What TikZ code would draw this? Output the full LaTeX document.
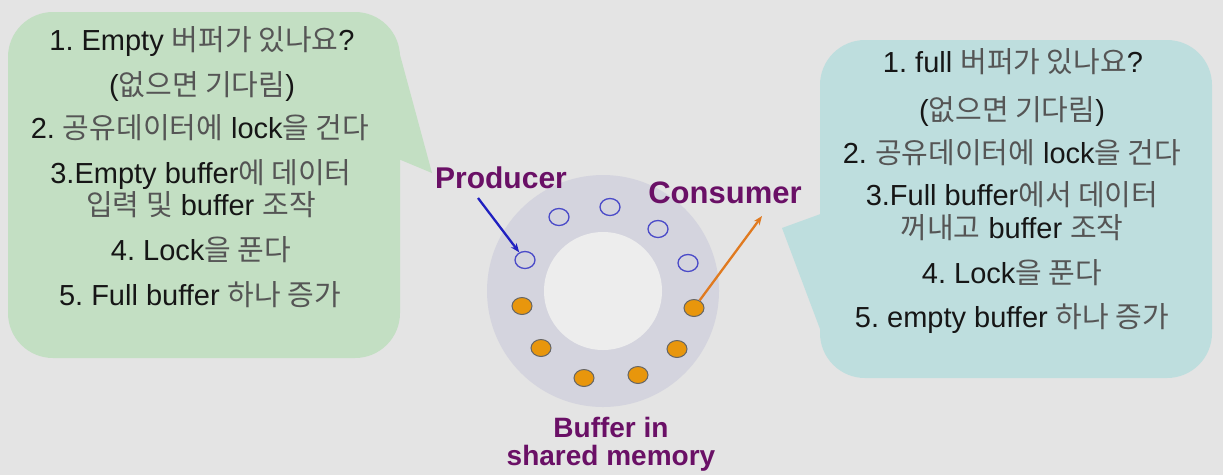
\documentclass[tikz,border=0pt]{standalone}
\usepackage{fontspec}
\setmainfont{Liberation Sans}
\newfontfamily\krfont{Noto Sans CJK KR}
\usetikzlibrary{arrows.meta,shapes.geometric}
\frenchspacing
\definecolor{bg}{HTML}{E4E4E4}
\definecolor{lgreen}{HTML}{C3DFC3}
\definecolor{lcyan}{HTML}{BEDEDE}
\definecolor{ringc}{HTML}{D4D4DE}
\definecolor{holec}{HTML}{EDEDED}
\definecolor{kgray}{HTML}{555555}
\definecolor{txt}{HTML}{161616}
\definecolor{purp}{HTML}{6A1066}
\definecolor{eblue}{HTML}{4A4AC8}
\definecolor{forange}{HTML}{E8960C}
\definecolor{ablue}{HTML}{2020C0}
\definecolor{aorange}{HTML}{E07A20}
\newcommand\hk[1]{{\krfont\color{kgray}#1}}
\tikzset{
  line/.style={anchor=base, inner sep=0pt, text=txt, font=\fontsize{29}{34}\selectfont},
  lbl/.style={anchor=base, inner sep=0pt, text=purp, font=\bfseries\fontsize{28}{34}\selectfont},
  emptyslot/.style={ellipse, minimum width=20, minimum height=17, inner sep=0pt, draw=eblue, line width=1.3},
  fullslot/.style={ellipse, minimum width=20, minimum height=17, inner sep=0pt, draw=black!60, fill=forange, line width=1},
  arr/.style={line width=2.3, -{Stealth[length=9,width=7]}}
}
\begin{document}
\begin{tikzpicture}[x=1pt,y=-1pt]
\useasboundingbox (0,0) rectangle (1223,475);
\fill[bg] (0,0) rectangle (1223,475);
% left bubble
\fill[lgreen, rounded corners=45] (8,12) rectangle (400,358);
\fill[lgreen] (396,40) -- (432,173) -- (396,158) -- cycle;
% right bubble
\fill[lcyan, rounded corners=45] (820,40) rectangle (1212,378);
\fill[lcyan] (782,228) -- (826,212) -- (826,345) -- cycle;
% ring
\fill[ringc] (603,291) circle[radius=116];
\fill[holec] (603,291) circle[radius=59];
% slots
\node[emptyslot] (e1) at (525,260) {};
\node[emptyslot] (e2) at (559,217) {};
\node[emptyslot] (e3) at (610,207) {};
\node[emptyslot] (e4) at (658,229) {};
\node[emptyslot] (e5) at (688,263) {};
\node[fullslot] (f1) at (522,306) {};
\node[fullslot] (f2) at (541,348) {};
\node[fullslot] (f3) at (584,378) {};
\node[fullslot] (f4) at (638,375) {};
\node[fullslot] (f5) at (677,349) {};
\node[fullslot] (f6) at (694,308) {};
% labels
\node[lbl, font=\bfseries\fontsize{30}{34}\selectfont] (prod) at (501,188) {Producer};
\node[lbl, font=\bfseries\fontsize{31}{34}\selectfont] (cons) at (725,203) {Consumer};
\node[lbl] (buf1) at (611,437) {Buffer in};
\node[lbl] (buf2) at (611,465) {shared memory};
% arrows
\coordinate (pa) at (478,198);
\coordinate (ca) at (762,216);
\draw[arr, ablue] (pa) -- (e1);
\draw[arr, aorange] (f6) -- (ca);
% left text
\node[line] (l1) at (202,50) {1. Empty \hk{버퍼가 있나요}?};
\node[line] (l2) at (202,95) {(\hk{없으면 기다림})};
\node[line] (l3) at (200,138) {2. \hk{공유데이터에} lock\hk{을 건다}};
\node[line] (l4) at (201,183) {3.Empty buffer\hk{에 데이터}};
\node[line] (l5) at (201,215) {\hk{입력 및} buffer \hk{조작}};
\node[line] (l6) at (201,260) {4. Lock\hk{을 푼다}};
\node[line] (l7) at (200,305) {5. Full buffer \hk{하나 증가}};
% right text
\node[line] (r1) at (1013,72) {1. full \hk{버퍼가 있나요}?};
\node[line] (r2) at (1012,120) {(\hk{없으면 기다림})};
\node[line] (r3) at (1012,163) {2. \hk{공유데이터에} lock\hk{을 건다}};
\node[line] (r4) at (1012,205) {3.Full buffer\hk{에서 데이터}};
\node[line] (r5) at (1012,238) {\hk{꺼내고} buffer \hk{조작}};
\node[line] (r6) at (1012,283) {4. Lock\hk{을 푼다}};
\node[line] (r7) at (1012,327) {5. empty buffer \hk{하나 증가}};
\end{tikzpicture}
\end{document}
